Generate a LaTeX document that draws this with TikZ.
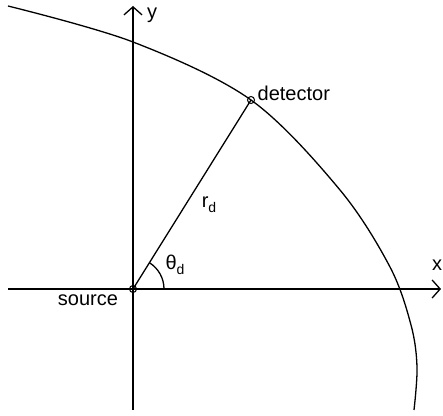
\documentclass[tikz,border=0pt]{standalone}
\usepackage{fontspec}
\setmainfont{Liberation Sans}
\usetikzlibrary{arrows.meta}
\begin{document}
\begin{tikzpicture}[x=1pt,y=1pt,line width=1.3pt,
  axis/.style={-{Straight Barb[length=8pt,width=18pt]}},
  lbl/.style={font=\fontsize{20}{24}\selectfont, inner sep=0pt},
  dot/.style={circle, draw, line width=1pt, minimum size=7pt, inner sep=0pt}]
\useasboundingbox (0,0) rectangle (443,415);
\coordinate (xs) at (8,126);
\coordinate (xe) at (441,126);
\coordinate (ys) at (133,5);
\coordinate (ye) at (133,409);
\draw[axis] (xs) -- (xe);
\draw[axis] (ys) -- (ye);
\draw plot[smooth, tension=0.55] coordinates {(8,409) (133,373) (251,315) (340,225) (390,148) (411,90) (417,48) (414,5)};
\coordinate (src) at (133,126);
\coordinate (det) at (251,315);
\draw (src) -- (det);
\draw (164,126) arc[start angle=0, end angle=58, radius=31];
\node[dot] (s) at (src) {};
\node[dot] (d) at (det) {};
\node[lbl] (ylab) at (152,400) {y};
\node[lbl] (xlab) at (437,150) {x};
\node[lbl, anchor=west] (dlab) at (257,322) {detector};
\node[lbl] (slab) at (88,115) {source};
\node[lbl] (rlab) at (209,210) {r\raisebox{-0.45ex}{\fontsize{14}{16}\selectfont d}};
\node[lbl] (tlab) at (175,150) {θ\raisebox{-0.45ex}{\fontsize{14}{16}\selectfont d}};
\end{tikzpicture}
\end{document}
